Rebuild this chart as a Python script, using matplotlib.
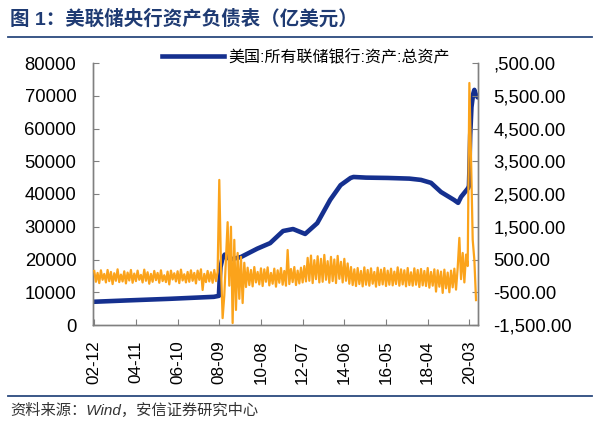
import matplotlib
matplotlib.use('Agg')
import matplotlib.pyplot as plt
import pandas as pd
from matplotlib.lines import Line2D

plt.rcParams['font.family'] = ['Liberation Sans', 'Noto Sans CJK SC', 'DejaVu Sans']

title = '图 1：美联储央行资产负债表（亿美元）'
source = '资料来源：Wind，安信证券研究中心'
legend_label = '美国:所有联储银行:资产:总资产'

# Blue series: total assets (left axis, 亿美元)
blue_dates = ['2002-12-18', '2004-06-16', '2006-06-14', '2008-06-18', '2008-09-10',
              '2008-09-24', '2008-10-08', '2008-11-05', '2008-12-17', '2009-03-18',
              '2009-09-16', '2010-06-16', '2011-01-19', '2011-08-24', '2012-02-08',
              '2012-08-29', '2013-03-20', '2013-10-23', '2014-04-16', '2014-10-01',
              '2014-11-19', '2015-06-17', '2016-06-15', '2017-06-14', '2017-12-27',
              '2018-06-13', '2018-11-28', '2019-07-03', '2019-09-11', '2019-10-30',
              '2020-02-26', '2020-03-11', '2020-03-18', '2020-04-01', '2020-04-22',
              '2020-05-20', '2020-06-10', '2020-07-01', '2020-08-05']
blue_values = [7100, 7500, 8000, 8600, 8900,
               14000, 17700, 20000, 21500, 20000,
               20760, 23300, 25000, 28700, 29300,
               27800, 31100, 38200, 42700, 44900,
               45200, 45000, 44900, 44700, 44300,
               43400, 40600, 38200, 37300, 39100,
               41800, 42500, 47000, 58000, 66500,
               70500, 71800, 70500, 69500]

# Orange series: weekly change sampled every 4 weeks (right axis)
orange_start = '2002-12-18'
orange_step = '28D'
orange_values = [
    150, -180, 90, -220, 170, -120, 60, -200, 180, -160,
    120, -250, 80, -150, 200, -190, 40, -170, 140, -230,
    100, -140, 180, -210, 70, -160, 160, -120, 30, -200,
    190, -150, 110, -240, 60, -180, 150, -130, 90, -210,
    170, -160, 20, -190, 130, -260, 160, -110, 80, -170,
    140, -220, 190, -140, 50, -200, 120, -180, 170, -150,
    90, -230, 160, -120, 200, -430, 60, -190, 150, -170,
    110, -210, 180, -160, 120,
    2930, 300, -1290, -600, 500, 1640, -300, 1500, -1440, 1100,
    -1040, 700, -700, 580, -830, 400, -340,
    250, -280, 180, -320, 270, -200, 120, -260, 230, -310,
    200, -180, 260, -290, 90, -240, 220, -330, 170, -210,
    240, -270, 150, -300, 790, -250, 210, -190, 270, -280,
    160, -230, 250, -200, 300, -170,
    550, -150, 620, -220, 480, -100, 600, -200, 520, -180,
    640, -120, 450, -210, 580, -160, 500, -220, 610, -90,
    430, -200, 520, -150, 380, -240,
    270, -280, 200, -310, 240, -250, 150, -320, 260, -270,
    180, -300, 230, -240, 120, -330, 250, -280, 190, -260,
    240, -310, 160, -270, 220, -290, 130, -250, 260, -300,
    200, -260, 170, -320, 240, -280, 110, -300, 230, -270,
    180, -340, 210, -290, 150, -310, 240, -360, 120, -300,
    200, -480, 170, -330, 130, -520, 190, -380, 100, -500,
    160, -350, 220, -420, 250,
    1160, -100, 700, -200, 650, 300, 5890, 3600, 1100, 480, -740,
]

tick_dates = ['2002-12-18', '2004-11-17', '2006-10-18', '2008-09-17', '2010-08-18',
              '2012-07-18', '2014-06-18', '2016-05-18', '2018-04-18', '2020-03-18']
tick_labels = ['02-12', '04-11', '06-10', '08-09', '10-08',
               '12-07', '14-06', '16-05', '18-04', '20-03']
left_ticks = [0, 10000, 20000, 30000, 40000, 50000, 60000, 70000, 80000]
right_ticks = [-1500, -500, 500, 1500, 2500, 3500, 4500, 5500, 6500]

BLUE = '#15308F'
ORANGE = '#FBA31B'
SPINE = '#808080'

fig = plt.figure(figsize=(6, 4.25), dpi=100)
W, H = 600, 425
ax = fig.add_axes([93 / W, 1 - 325 / H, (478 - 93) / W, (325 - 63) / H])
ax2 = ax.twinx()

bd = pd.to_datetime(blue_dates)
ax.plot(bd, blue_values, color=BLUE, lw=3.3, solid_capstyle='round', zorder=2)

od = pd.date_range(orange_start, periods=len(orange_values), freq=orange_step)
ax2.plot(od, orange_values, color=ORANGE, lw=1.6, zorder=3)

ax.set_xlim(pd.Timestamp('2002-11-27'), pd.Timestamp('2020-08-10'))
ax.set_ylim(0, 80000)
ax2.set_ylim(-1500, 6500)

ax.set_yticks(left_ticks)
ax.set_yticklabels([str(v) for v in left_ticks])
ax2.set_yticks(right_ticks)
rlabels = [f'{v:,.2f}' for v in right_ticks]
rlabels[-1] = ',500.00'
ax2.set_yticklabels(rlabels)
ax.set_xticks(pd.to_datetime(tick_dates))
ax.set_xticklabels(tick_labels, rotation=90)

for a in (ax, ax2):
    a.spines['top'].set_visible(False)
    for s in ('left', 'right', 'bottom'):
        a.spines[s].set_color(SPINE)
        a.spines[s].set_linewidth(1.0)
ax.tick_params(axis='y', direction='in', length=4, color=SPINE, labelsize=13.3, pad=12)
ax.tick_params(axis='x', direction='in', length=4, color=SPINE, labelsize=12.3, pad=11)
ax2.tick_params(axis='y', direction='in', length=4, color=SPINE, labelsize=13.3, pad=11)

handle = Line2D([], [], color=BLUE, lw=3.3)
fig.legend([handle], [legend_label], loc='center left',
           bbox_to_anchor=(162 / W, 1 - 57 / H), frameon=False,
           fontsize=11.5, handlelength=3.9, handletextpad=0.25,
           borderpad=0, borderaxespad=0)

fig.text(10 / W, 1 - 19 / H, title, fontsize=14, fontweight='bold',
         color='#1F3B73', va='center', ha='left')
fig.add_artist(Line2D([8 / W, 592 / W], [1 - 37 / H, 1 - 37 / H],
                      transform=fig.transFigure, color='#2B4A7E', lw=1.3))
fig.add_artist(Line2D([8 / W, 592 / W], [1 - 396 / H, 1 - 396 / H],
                      transform=fig.transFigure, color='#2B4A7E', lw=1.3))
fig.text(10 / W, 1 - 410 / H, source, fontsize=11, style='italic',
         color='#333333', va='center', ha='left')

fig.savefig('out.png', dpi=100)
